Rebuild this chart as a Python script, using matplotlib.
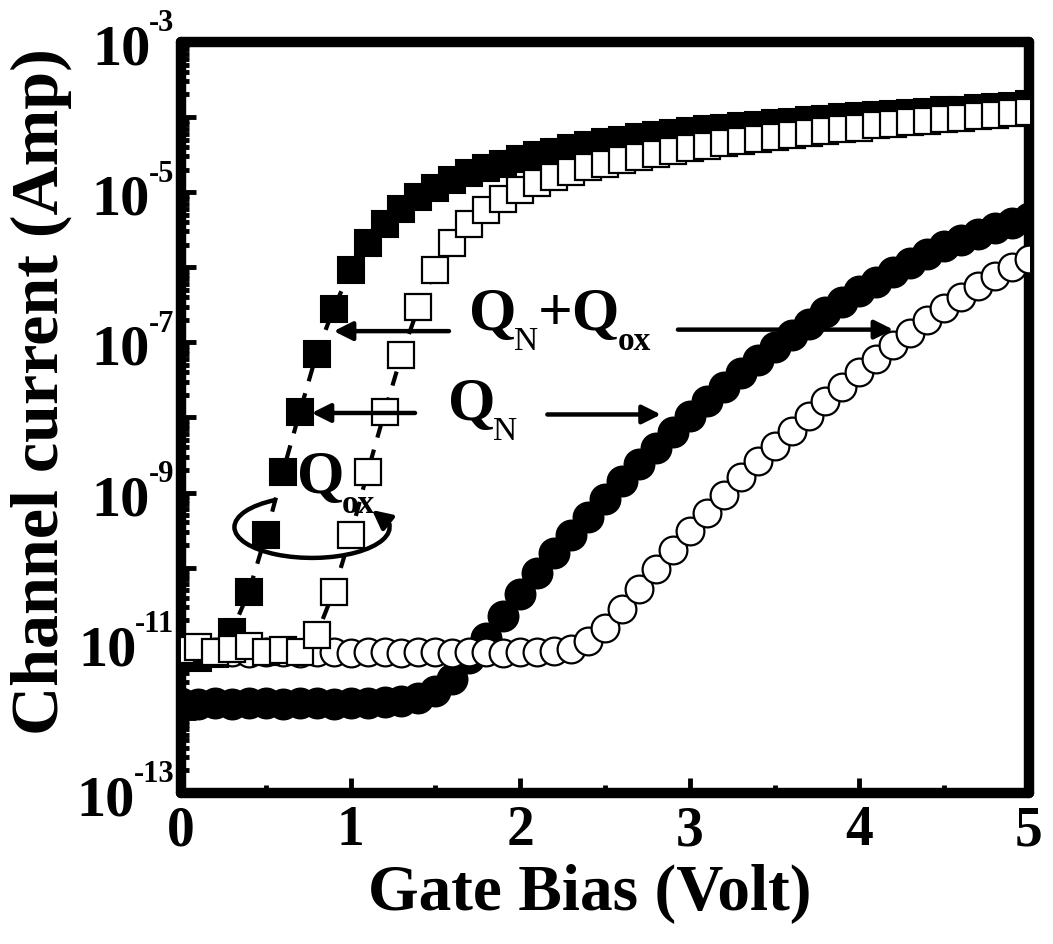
import numpy as np
import matplotlib
matplotlib.use("Agg")
import matplotlib.pyplot as plt
from matplotlib.patches import Arc
from matplotlib.transforms import blended_transform_factory
from matplotlib.ticker import FixedLocator, LogLocator, NullFormatter, MultipleLocator

plt.rcParams['font.family'] = ['Liberation Serif', 'DejaVu Serif']
plt.rcParams['font.weight'] = 'bold'

# gate bias sweep, 0.1 V steps
gate_v = np.round(np.arange(0, 5.01, 0.1), 1)

# log10 of channel current (A)
sq_filled = [-11.15, -11.20, -11.15, -10.85, -10.32, -9.57, -8.73, -7.93, -7.15, -6.55,
             -6.04, -5.68, -5.42, -5.22, -5.06, -4.94, -4.84, -4.75, -4.68, -4.62,
             -4.56, -4.51, -4.46, -4.41, -4.37, -4.33, -4.30, -4.27, -4.24, -4.21,
             -4.19, -4.16, -4.14, -4.12, -4.10, -4.08, -4.06, -4.04, -4.02, -4.00,
             -3.99, -3.97, -3.96, -3.94, -3.93, -3.91, -3.90, -3.88, -3.86, -3.85,
             -3.83]
sq_open = [-11.10, -11.05, -11.12, -11.08, -11.04, -11.12, -11.10, -11.12, -10.89, -10.32,
           -9.57, -8.73, -7.93, -7.17, -6.53, -6.04, -5.68, -5.43, -5.24, -5.09,
           -4.97, -4.88, -4.80, -4.73, -4.67, -4.62, -4.57, -4.53, -4.49, -4.45,
           -4.41, -4.38, -4.35, -4.32, -4.29, -4.26, -4.24, -4.21, -4.19, -4.16,
           -4.14, -4.11, -4.09, -4.07, -4.05, -4.03, -4.01, -3.99, -3.97, -3.95,
           -3.93]
circ_filled = [-11.80, -11.82, -11.80, -11.81, -11.80, -11.80, -11.81, -11.80, -11.80, -11.81,
               -11.80, -11.80, -11.79, -11.77, -11.73, -11.64, -11.48, -11.20, -10.93, -10.64,
               -10.35, -10.07, -9.80, -9.56, -9.32, -9.08, -8.85, -8.62, -8.40, -8.19,
               -7.98, -7.78, -7.59, -7.41, -7.23, -7.06, -6.90, -6.75, -6.60, -6.46,
               -6.32, -6.19, -6.06, -5.94, -5.82, -5.72, -5.63, -5.55, -5.48, -5.41,
               -5.35]
circ_open = [-11.12, -11.13, -11.12, -11.12, -11.13, -11.12, -11.12, -11.13, -11.12, -11.12,
             -11.13, -11.12, -11.12, -11.13, -11.12, -11.12, -11.13, -11.12, -11.12, -11.13,
             -11.12, -11.12, -11.11, -11.08, -10.98, -10.80, -10.55, -10.28, -10.02, -9.77,
             -9.51, -9.27, -9.03, -8.79, -8.58, -8.38, -8.18, -7.98, -7.78, -7.59,
             -7.40, -7.22, -7.04, -6.87, -6.70, -6.54, -6.39, -6.25, -6.12, -6.00,
             -5.89]

y_major = [1e-13, 1e-12, 1e-11, 1e-10, 1e-9, 1e-8, 1e-7, 1e-6, 1e-5, 1e-4, 1e-3]
y_label_exps = [-13, -11, -9, -7, -5, -3]
x_ticks = [0, 1, 2, 3, 4, 5]
x_ticklabels = ['0', '1', '2', '3', '4', '5']

fig = plt.figure(figsize=(10.53, 9.44), dpi=100)
ax = fig.add_axes([0.1719, 0.1600, 0.8053, 0.7955])

ax.plot(gate_v, 10.0 ** np.array(circ_filled), 'o', ms=21.5, mfc='k', mec='k', mew=1.5, zorder=2)
ax.plot(gate_v, 10.0 ** np.array(circ_open), 'o', ms=20, mfc='white', mec='k', mew=1.6, zorder=3)
ax.plot(gate_v, 10.0 ** np.array(sq_filled), 's', ls=(0, (3.5, 3)), lw=3, color='k',
        ms=19, mfc='k', mec='k', mew=1.5, zorder=4)
ax.plot(gate_v, 10.0 ** np.array(sq_open), 's', ls=(0, (3.5, 3)), lw=3, color='k',
        ms=19, mfc='white', mec='k', mew=1.6, zorder=5)

ax.set_yscale('log')
ax.set_xlim(0, 5)
ax.set_ylim(1e-13, 1e-3)

ax.yaxis.set_major_locator(FixedLocator(y_major))
ax.yaxis.set_minor_locator(LogLocator(base=10, subs=np.arange(2, 10), numticks=30))
ax.yaxis.set_minor_formatter(NullFormatter())
ax.set_xticks(x_ticks, x_ticklabels)
ax.xaxis.set_minor_locator(MultipleLocator(0.5))

ax.tick_params(which='both', direction='in', top=False, right=False, width=3.5, color='k')
ax.tick_params(which='major', length=11)
ax.tick_params(which='minor', length=6)
ax.tick_params(axis='x', which='major', labelsize=40, pad=9)
ax.tick_params(axis='y', labelleft=False)

# y tick labels as 10 + small raised exponent
ytrans = blended_transform_factory(ax.transAxes, ax.transData)
for e in y_label_exps:
    sup = ax.text(-0.008, 10.0 ** (e + 0.14), str(e), transform=ytrans, fontsize=22,
                  fontweight='bold', ha='right', va='baseline')
    ax.annotate('10', xy=(0, 10.0 ** (e - 0.30)), xycoords=(sup, 'data'),
                xytext=(1, 0), textcoords='offset points', fontsize=42,
                fontweight='bold', ha='right', va='baseline')

for sp in ax.spines.values():
    sp.set_linewidth(7.5)
    sp.set_capstyle('round')

ax.set_xlabel('Gate Bias (Volt)', fontsize=47, fontweight='bold')
ax.set_ylabel('Channel current (Amp)', fontsize=49, fontweight='bold')
ax.xaxis.set_label_coords(0.482, -0.095)
ax.yaxis.set_label_coords(-0.128, 0.534)


def q_label(x, logy, sub, sub_weight):
    q = ax.text(x, 10.0 ** logy, 'Q', fontsize=44, fontweight='bold',
                ha='left', va='baseline', zorder=10)
    s = ax.annotate(sub, xy=(1, 0), xycoords=q, xytext=(-2, -5), textcoords='offset points',
                    fontsize=24, fontweight=sub_weight, ha='left', va='baseline', zorder=10)
    return q, s


# Q_N + Q_ox
q1, n1 = q_label(1.70, -6.835, 'N', 'normal')
plus = ax.annotate('+Q', xy=(1, 0), xycoords=(n1, q1), xytext=(0, 0), textcoords='offset points',
                   fontsize=44, fontweight='bold', ha='left', va='bottom', zorder=10)
ax.annotate('ox', xy=(1, 0), xycoords=plus, xytext=(-2, -5), textcoords='offset points',
            fontsize=24, fontweight='bold', ha='left', va='baseline', zorder=10)
# Q_N
q_label(1.574, -8.03, 'N', 'normal')
# Q_ox
q_label(0.684, -9.0, 'ox', 'bold')

arrow_kw = dict(arrowstyle='-|>', lw=3.2, color='k', mutation_scale=28, shrinkA=0, shrinkB=0)
ax.annotate('', xy=(0.90, 10 ** -6.85), xytext=(1.58, 10 ** -6.85), arrowprops=arrow_kw, zorder=9)
ax.annotate('', xy=(4.20, 10 ** -6.83), xytext=(2.93, 10 ** -6.83), arrowprops=arrow_kw, zorder=9)
ax.annotate('', xy=(0.77, 10 ** -7.94), xytext=(1.38, 10 ** -7.94), arrowprops=arrow_kw, zorder=9)
ax.annotate('', xy=(2.83, 10 ** -7.96), xytext=(2.16, 10 ** -7.96), arrowprops=arrow_kw, zorder=9)

# looping arrow around Q_ox
loop = Arc((0.1545, 0.354), 0.183, 0.082, theta1=140, theta2=3, transform=ax.transAxes,
           lw=3.2, color='k', zorder=9)
ax.add_patch(loop)
ax.annotate('', xy=(0.2252, 0.3768), xytext=(0.2456, 0.3583), xycoords='axes fraction',
            textcoords='axes fraction',
            arrowprops=dict(arrowstyle='-|>', lw=3.2, color='k', mutation_scale=28,
                            shrinkA=0, shrinkB=0),
            zorder=9)

fig.savefig('out.png', dpi=100)
